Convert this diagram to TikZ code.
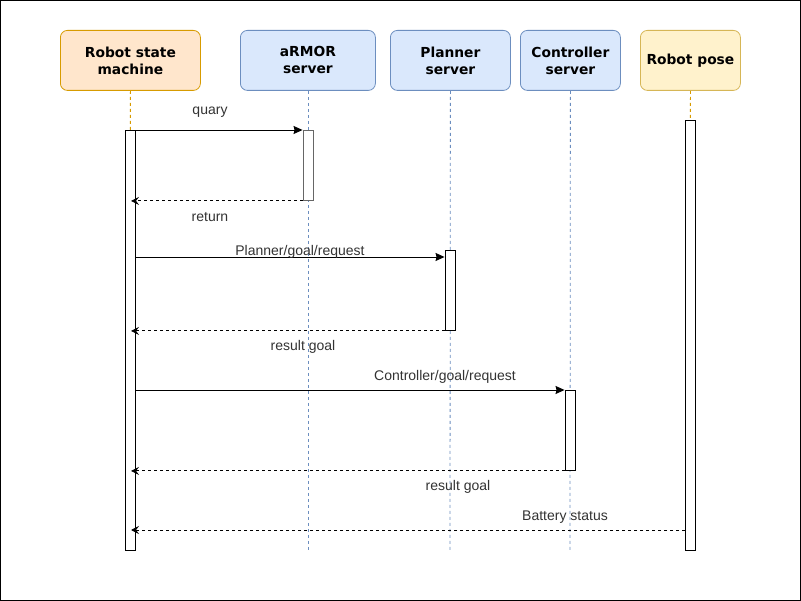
\documentclass[tikz,border=0pt]{standalone}
\usepackage{fontspec}
\setmainfont{Liberation Sans}
\newfontfamily\boxfont{DejaVu Sans}
\usetikzlibrary{arrows.meta}
\definecolor{orfill}{HTML}{FFE6CC}
\definecolor{ordraw}{HTML}{D79B00}
\definecolor{blfill}{HTML}{DAE8FC}
\definecolor{bldraw}{HTML}{6C8EBF}
\definecolor{yefill}{HTML}{FFF2CC}
\definecolor{yedraw}{HTML}{D6B656}
\definecolor{txt}{HTML}{333333}
\begin{document}
\begin{tikzpicture}[x=1pt,y=-1pt,
  actor/.style={rounded corners=7pt, line width=0.8pt, anchor=north west, inner sep=0pt,
    align=center, font=\boxfont\bfseries\fontsize{13.8}{17}\selectfont, text=black},
  lifeline/.style={dash pattern=on 3pt off 3pt, line width=0.8pt},
  act/.style={draw=black, fill=white, line width=0.9pt, inner sep=0pt, minimum width=10pt},
  msg/.style={line width=0.9pt, -{Stealth[length=9pt,width=8pt,inset=1pt]}},
  ret/.style={line width=0.9pt, dash pattern=on 3pt off 3pt, -{Stealth[length=8pt,width=8pt,inset=3pt]}},
  lab/.style={font=\fontsize{14}{16}\selectfont, text=txt, inner sep=0pt}]
\draw[black, line width=1pt, fill=white] (0.5,0.5) rectangle (800.5,600.5);
\useasboundingbox (0,0) rectangle (801,601);
% actors
\node[actor, fill=orfill, draw=ordraw, minimum width=140pt, minimum height=60pt] (rsm) at (60,30) {Robot state\\machine};
\node[actor, fill=blfill, draw=bldraw, minimum width=135pt, minimum height=60pt] (arm) at (240,30) {aRMOR\\server};
\node[actor, fill=blfill, draw=bldraw, minimum width=120pt, minimum height=60pt] (pla) at (390,30) {Planner\\server};
\node[actor, fill=blfill, draw=bldraw, minimum width=100pt, minimum height=60pt] (con) at (520,30) {Controller\\server};
\node[actor, fill=yefill, draw=yedraw, minimum width=100pt, minimum height=60pt] (pose) at (640,30) {Robot pose};
% lifeline ends
\coordinate (rsmE) at (130,550);
\coordinate (armE) at (308,550);
\coordinate (plaE) at (450,550);
\coordinate (conE) at (570,550);
\coordinate (poseE) at (690,550);
\draw[lifeline, draw=ordraw] (rsm.south) -- (rsmE);
\draw[lifeline, draw=bldraw] (arm.south -| armE) -- (armE);
\draw[lifeline, draw=bldraw] (pla.south) -- (plaE);
\draw[lifeline, draw=bldraw] (con.south) -- (conE);
\draw[lifeline, draw=ordraw] (pose.south) -- (poseE);
% activations
\node[act, minimum height=420pt, anchor=north] (a1) at (130,130) {};
\node[act, draw=black!60, minimum height=70pt, anchor=north] (a2) at (308,130) {};
\node[act, minimum height=80pt, anchor=north] (a3) at (450,250) {};
\node[act, minimum height=80pt, anchor=north] (a4) at (570,390) {};
\node[act, minimum height=430pt, anchor=north] (a5) at (690,120) {};
\coordinate (rx) at (131,0);
% messages
\draw[msg] (a1.north east) -- (a2.north west);
\node[lab] (l1) at (210,112) {quary};
\draw[ret] (a2.south west) -- (a2.south west -| rx);
\node[lab] (l2) at (210,217) {return};
\coordinate (p3) at (a3.west |- 0,257);
\draw[msg] (a1.east |- p3) -- (p3);
\node[lab] (l3) at (300,252) {Planner/goal/request};
\draw[ret] (a3.south west) -- (a3.south west -| rx);
\node[lab] (l4) at (303,347) {result goal};
\draw[msg] (a1.east |- a4.north west) -- (a4.north west);
\node[lab] (l5) at (445,377) {Controller/goal/request};
\draw[ret] (a4.south west) -- (a4.south west -| rx);
\node[lab] (l6) at (458,487) {result goal};
\coordinate (b) at (685,530);
\draw[ret] (b) -- (b -| rx);
\node[lab] (l7) at (565,517) {Battery status};
\end{tikzpicture}
\end{document}
